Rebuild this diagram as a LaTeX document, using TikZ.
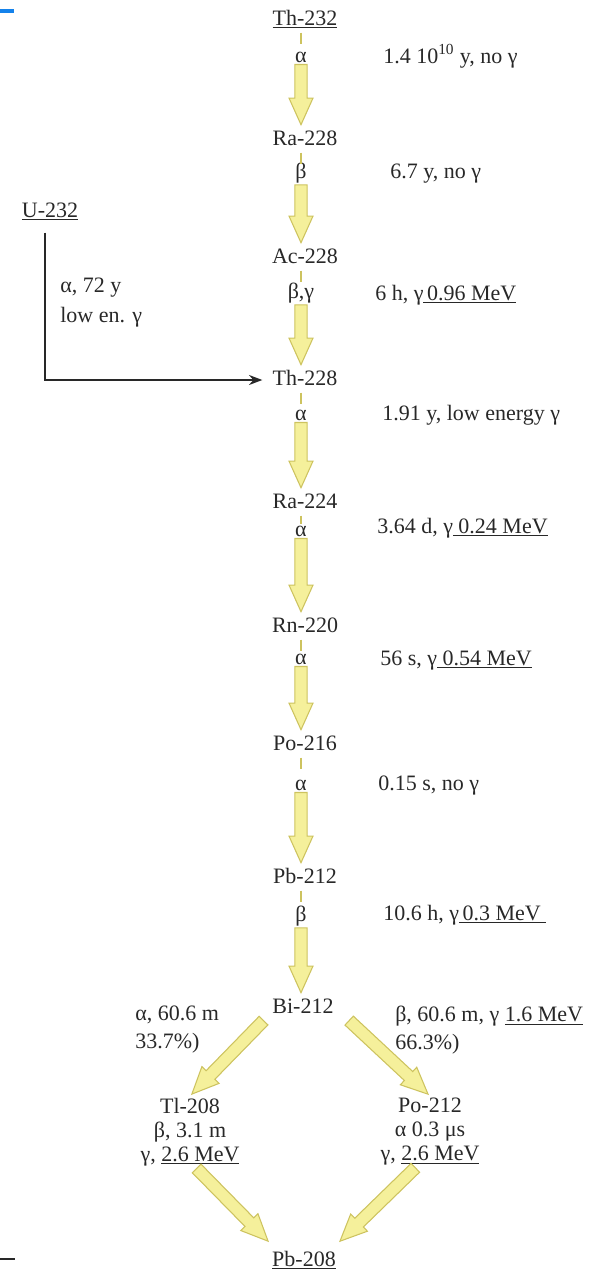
\documentclass[tikz,border=0pt]{standalone}
\usepackage{fontspec}
\setmainfont{Liberation Serif}
\usetikzlibrary{arrows.meta, positioning, calc}
\definecolor{ink}{RGB}{40,40,40}
\definecolor{fatfill}{RGB}{245,240,155}
\definecolor{fatline}{RGB}{205,195,95}
\definecolor{barblue}{RGB}{20,130,235}
\newcommand{\lblfont}{\fontsize{16.5}{18}\selectfont}

% fat yellow decay arrow from #1 to #2
\newcommand{\fatarrow}[2]{%
  \coordinate (fa-s) at (#1);
  \coordinate (fa-t) at (#2);
  \coordinate (fa-e) at ($(fa-t)!2pt!(fa-s)$);
  \coordinate (fa-h) at ($(fa-e)!20pt!(fa-s)$);
  \filldraw[fat] ($(fa-s)!4.6pt!90:(fa-e)$) -- ($(fa-h)!4.6pt!90:(fa-e)$)
    -- ($(fa-h)!9pt!90:(fa-e)$) -- (fa-e) -- ($(fa-h)!9pt!-90:(fa-e)$)
    -- ($(fa-h)!4.6pt!-90:(fa-e)$) -- ($(fa-s)!4.6pt!-90:(fa-e)$) -- cycle;
}

\begin{document}
\begin{tikzpicture}[
    x=0.75pt, y=-0.75pt,
    every node/.style={font=\lblfont, text=ink},
    nuc/.style={anchor=base, text height=11.5pt, text depth=4pt, inner sep=1.5pt},
    mode/.style={anchor=base, text height=8pt, inner sep=1.5pt},
    info/.style={anchor=base west, inner sep=0pt},
    branch/.style={anchor=north west, inner sep=0pt, align=left, font=\fontsize{16.5}{21}\selectfont},
    daughter/.style={anchor=north, inner sep=1.5pt, align=center},
    fat/.style={fill=fatfill, draw=fatline, line width=0.8pt, line join=miter},
    tick/.style={fatline, line width=1.2pt},
    feed/.style={-{Stealth[length=10pt, width=7.5pt]}, line width=1.4pt, ink, shorten <=6pt, shorten >=6pt},
]
\useasboundingbox (0,0) rectangle (609,1274);

% page marks
\draw[barblue, line width=2.4pt] (0,11) -- (14,11);
\draw[ink, line width=1.5pt] (0,1259) -- (15,1259);

% main chain
\node[nuc] (th232) at (305,25) {\underline{Th-232}};
\node[nuc] (ra228) at (305,145) {Ra-228};
\node[nuc] (ac228) at (305,263) {Ac-228};
\node[nuc] (th228) at (305,385) {Th-228};
\node[nuc] (ra224) at (305,508) {Ra-224};
\node[nuc] (rn220) at (305,632) {Rn-220};
\node[nuc] (po216) at (305,750) {Po-216};
\node[nuc] (pb212) at (305,883) {Pb-212};
\node[nuc] (bi212) at (303,1013) {Bi-212};

% decay modes
\node[mode] (d1) at (301,62) {α};
\node[mode] (d2) at (301,178) {β};
\node[mode] (d3) at (301,298) {β,γ};
\node[mode] (d4) at (301,420) {α};
\node[mode] (d5) at (301,536) {α};
\node[mode] (d6) at (301,664) {α};
\node[mode] (d7) at (301,790) {α};
\node[mode] (d8) at (301,921) {β};

% half lives
\node[info] (i1) at (383,63) {1.4 10\textsuperscript{10} y, no γ};
\node[info] (i2) at (390,178) {6.7 y, no γ};
\node[info] (i3) at (375,300) {6 h, γ\underline{\,0.96 MeV}};
\node[info] (i4) at (382,420) {1.91 y, low energy γ};
\node[info] (i5) at (377,533) {3.64 d, γ\underline{\ 0.24 MeV}};
\node[info] (i6) at (380,665) {56 s, γ\underline{\ 0.54 MeV}};
\node[info] (i7) at (378,790) {0.15 s, no γ};
\node[info] (i8) at (383,920) {10.6 h, γ\underline{\,0.3 MeV\ }};

% U-232 feed
\node[nuc] (u232) at (50,217) {\underline{U-232}};
\node[branch, font=\fontsize{16.5}{22}\selectfont] (ulbl) at (60,278) {α, 72 y\\low en. γ};

% branching
\node[branch] (bl) at (135,1006) {α, 60.6 m\\33.7\%)};
\node[branch] (br) at (395,1006) {β, 60.6 m, γ \underline{1.6 MeV}\\66.3\%)};
\node[daughter] (tl208) at (190,1096) {Tl-208\\β, 3.1 m\\γ, \underline{2.6 MeV}};
\node[daughter] (po212) at (430,1096) {Po-212\\α 0.3 μs\\γ, \underline{2.6 MeV}};
\node[nuc] (pb208) at (304,1266) {\underline{Pb-208}};

% ticks
\draw[tick] (th232.south -| d1) -- +(0,11);
\draw[tick] (ra228.south -| d2) -- +(0,11);
\draw[tick] (ac228.south -| d3) -- +(0,11);
\draw[tick] (th228.south -| d4) -- +(0,11);
\draw[tick] (ra224.south -| d5) -- +(0,8);
\draw[tick] (rn220.south -| d6) -- +(0,11);
\draw[tick] (po216.south -| d7) -- +(0,11);
\draw[tick] (pb212.south -| d8) -- +(0,11);

% arrows
\fatarrow{d1.south}{d1.south |- ra228.north}
\fatarrow{d2.south}{d2.south |- ac228.north}
\fatarrow{d3.south}{d3.south |- th228.north}
\fatarrow{d4.south}{d4.south |- ra224.north}
\fatarrow{d5.south}{d5.south |- rn220.north}
\fatarrow{d6.south}{d6.south |- po216.north}
\fatarrow{d7.south}{d7.south |- pb212.north}
\fatarrow{d8.south}{d8.south |- bi212.north}
\fatarrow{[xshift=-5pt]bi212.south west}{tl208.north}
\fatarrow{[xshift=10pt]bi212.south east}{po212.north}
\fatarrow{[xshift=5pt]tl208.south}{[yshift=4pt]pb208.north west}
\fatarrow{[xshift=-11pt]po212.south}{[yshift=4pt]pb208.north east}

\draw[feed] ([xshift=-4pt]u232.south) |- (th228.west);

\end{tikzpicture}
\end{document}
